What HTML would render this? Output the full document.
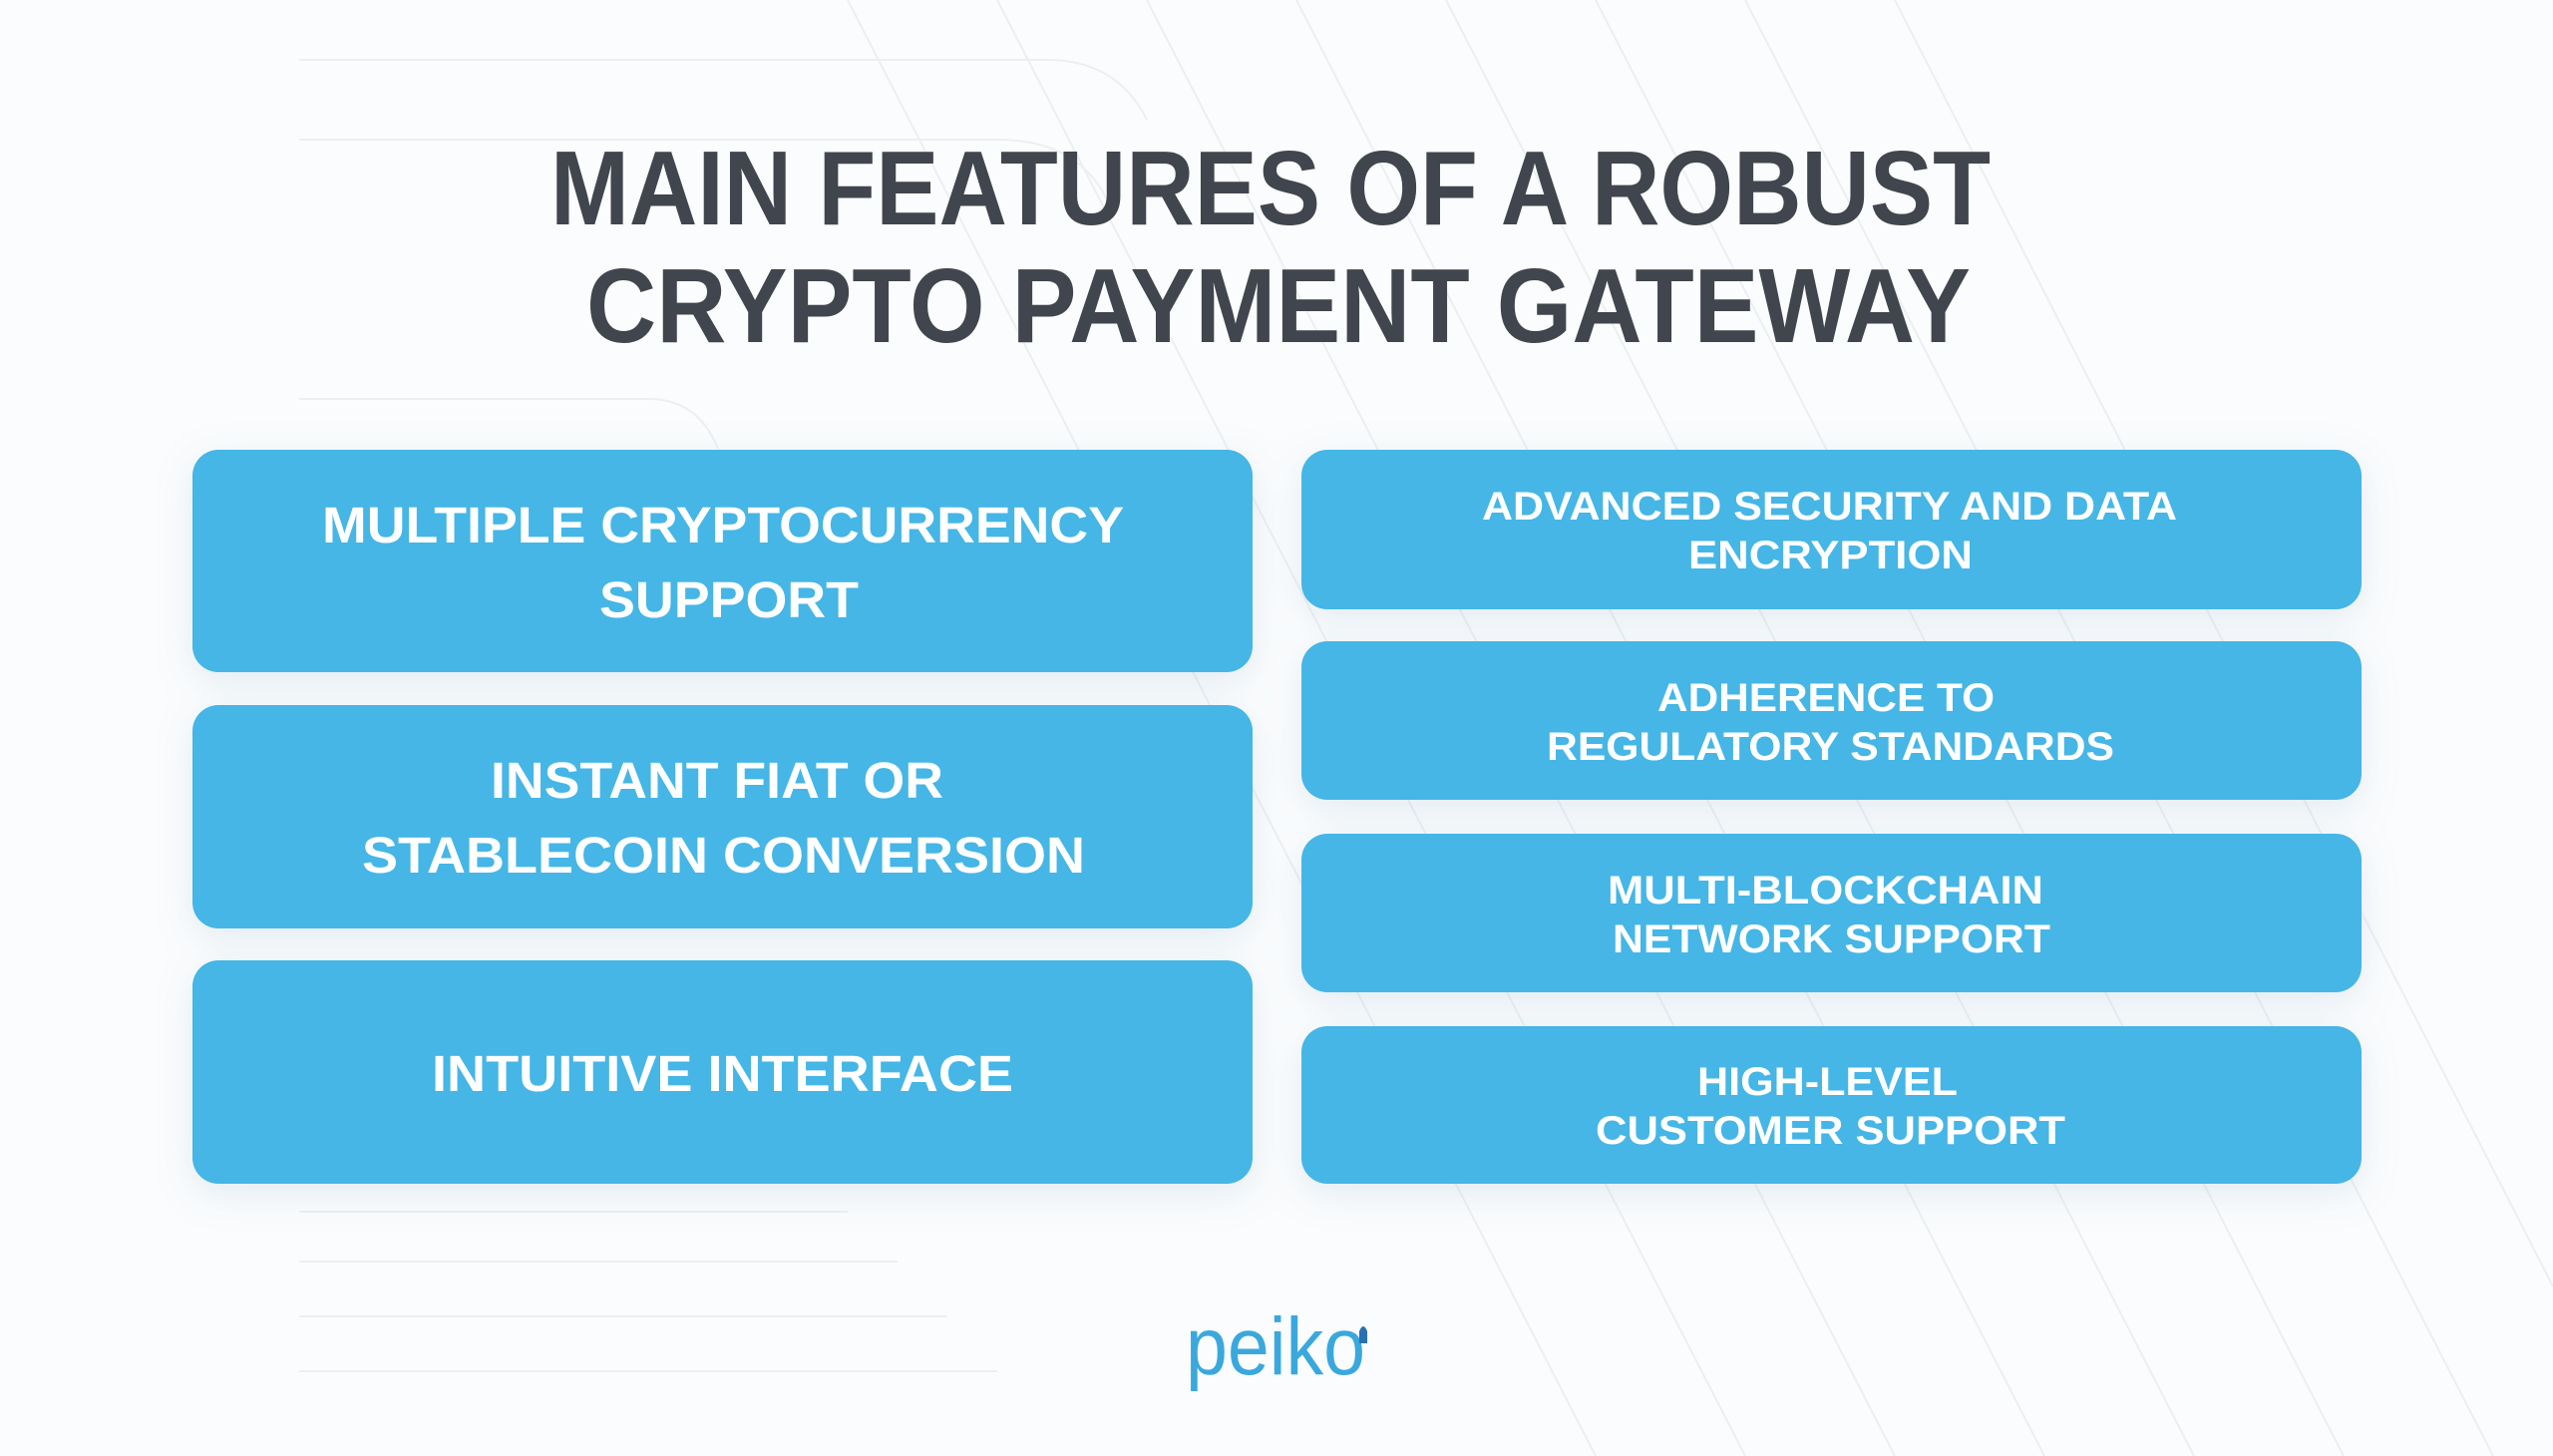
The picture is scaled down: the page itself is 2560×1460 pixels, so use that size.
<!DOCTYPE html>
<html><head><meta charset="utf-8"><style>html,body{margin:0;padding:0;background:#fbfcfd}svg{display:block}</style></head>
<body>
<svg width="2560" height="1460" viewBox="0 0 2560 1460" xmlns="http://www.w3.org/2000/svg">
<defs>
<filter id="sh" x="-10%" y="-20%" width="120%" height="150%"><feDropShadow dx="0" dy="10" stdDeviation="18" flood-color="#6a9fc0" flood-opacity="0.18"/></filter>
</defs>
<rect width="2560" height="1460" fill="#fbfcfd"/>
<g stroke="#eceff2" stroke-width="2" fill="none">
<path d="M1150 0 L1900 1460"/><path d="M1300 0 L2050 1460"/><path d="M1450 0 L2200 1460"/><path d="M1600 0 L2350 1460"/><path d="M1750 0 L2500 1460"/><path d="M1900 0 L2560 1290"/><path d="M1000 0 L1750 1460"/><path d="M850 0 L1600 1460"/>
<path d="M300 60 H1050 Q1120 60 1150 120"/><path d="M300 140 H1000 Q1080 140 1110 200"/><path d="M300 400 H650 Q700 400 720 450"/>
<path d="M300 1215 H850"/><path d="M300 1265 H900"/><path d="M300 1320 H950"/><path d="M300 1375 H1000"/>
</g>
<g font-family="Liberation Sans, sans-serif" font-weight="bold" fill="#41454d" font-size="106">
<text x="552" y="225" textLength="1444" lengthAdjust="spacingAndGlyphs">MAIN FEATURES OF A ROBUST</text>
<text x="588" y="343" textLength="1388" lengthAdjust="spacingAndGlyphs">CRYPTO PAYMENT GATEWAY</text>
</g>
<g fill="#45b6e6" filter="url(#sh)">
<rect x="193" y="451" width="1063" height="223" rx="26"/>
<rect x="193" y="707" width="1063" height="224" rx="26"/>
<rect x="193" y="963" width="1063" height="224" rx="26"/>
<rect x="1305" y="451" width="1063" height="160" rx="26"/>
<rect x="1305" y="643" width="1063" height="159" rx="26"/>
<rect x="1305" y="836" width="1063" height="159" rx="26"/>
<rect x="1305" y="1029" width="1063" height="158" rx="26"/>
</g>
<g font-family="Liberation Sans, sans-serif" font-weight="bold" fill="#ffffff" font-size="51">
<text x="323" y="544" textLength="804" lengthAdjust="spacingAndGlyphs">MULTIPLE CRYPTOCURRENCY</text>
<text x="601" y="619" textLength="260" lengthAdjust="spacingAndGlyphs">SUPPORT</text>
<text x="492" y="800" textLength="454" lengthAdjust="spacingAndGlyphs">INSTANT FIAT OR</text>
<text x="363" y="875" textLength="725" lengthAdjust="spacingAndGlyphs">STABLECOIN CONVERSION</text>
<text x="433" y="1094" textLength="583" lengthAdjust="spacingAndGlyphs">INTUITIVE INTERFACE</text>
</g>
<g font-family="Liberation Sans, sans-serif" font-weight="bold" fill="#ffffff" font-size="40">
<text x="1486" y="521" textLength="697" lengthAdjust="spacingAndGlyphs">ADVANCED SECURITY AND DATA</text>
<text x="1693" y="570" textLength="285" lengthAdjust="spacingAndGlyphs">ENCRYPTION</text>
<text x="1662" y="713" textLength="338" lengthAdjust="spacingAndGlyphs">ADHERENCE TO</text>
<text x="1551" y="762" textLength="569" lengthAdjust="spacingAndGlyphs">REGULATORY STANDARDS</text>
<text x="1612" y="906" textLength="437" lengthAdjust="spacingAndGlyphs">MULTI-BLOCKCHAIN</text>
<text x="1617" y="955" textLength="439" lengthAdjust="spacingAndGlyphs">NETWORK SUPPORT</text>
<text x="1702" y="1098" textLength="261" lengthAdjust="spacingAndGlyphs">HIGH-LEVEL</text>
<text x="1600" y="1147" textLength="471" lengthAdjust="spacingAndGlyphs">CUSTOMER SUPPORT</text>
</g>
<text x="1189" y="1378" font-family="Liberation Sans, sans-serif" font-size="82" fill="#3aa8dd" textLength="180" lengthAdjust="spacingAndGlyphs">peiko</text>
<path d="M1363 1335 q4 -10 8 0 v12 h-8z" fill="#2a6fb0"/>
</svg>
</body></html>
